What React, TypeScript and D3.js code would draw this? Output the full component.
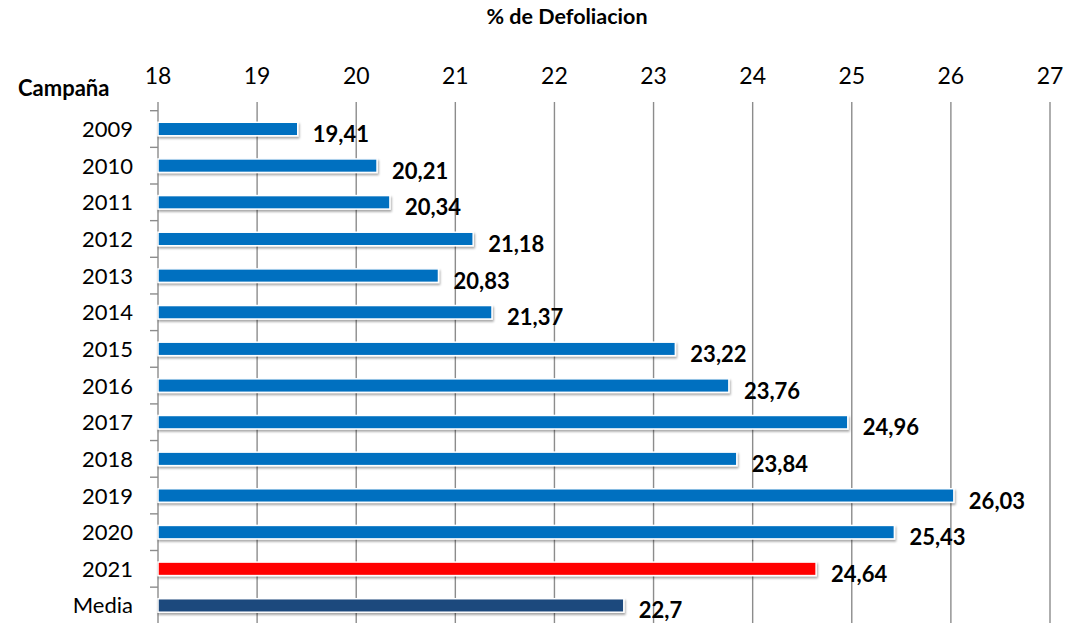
import React from "react";
import * as d3 from "d3";

const categories = ["2009","2010","2011","2012","2013","2014","2015","2016","2017","2018","2019","2020","2021","Media"];
const values = [19.41,20.21,20.34,21.18,20.83,21.37,23.22,23.76,24.96,23.84,26.03,25.43,24.64,22.7];
const labels = ["19,41","20,21","20,34","21,18","20,83","21,37","23,22","23,76","24,96","23,84","26,03","25,43","24,64","22,7"];
const xTicks = [18,19,20,21,22,23,24,25,26,27];
const barColors = ["#0070C0","#0070C0","#0070C0","#0070C0","#0070C0","#0070C0","#0070C0","#0070C0","#0070C0","#0070C0","#0070C0","#0070C0","#FF0000","#1F497D"];

const W = 1066, H = 623;
const FONT = "Lato, 'Open Sans', sans-serif";

export default function App() {
  const x = d3.scaleLinear().domain([18, 27]).range([158, 1050]);
  const y = d3.scaleBand().domain(categories).range([110.7, 623.8]).paddingInner(0).paddingOuter(0);
  const bh = 13.5;
  return (
    <svg width={W} height={H} style={{ position: "absolute", left: 0, top: 0, background: "#fff" }}>
      <defs>
        <filter id="sh" x="-5%" y="-50%" width="110%" height="200%">
          <feDropShadow dx="1" dy="2" stdDeviation="1.3" floodColor="#000" floodOpacity="0.35" />
        </filter>
      </defs>
      <text x={567} y={24} textAnchor="middle" fontFamily={FONT} fontWeight="bold" fontSize={21.5} fill="#000">% de Defoliacion</text>
      <text x={18} y={96} fontFamily={FONT} fontWeight="bold" fontSize={22} fill="#000">Campaña</text>
      {xTicks.map(t => (
        <g key={t}>
          <line x1={x(t)} x2={x(t)} y1={102} y2={H} stroke="#8c8c8c" strokeWidth={1.4} />
          <text x={x(t)} y={84} textAnchor="middle" fontFamily={FONT} fontSize={23} fill="#000">{t}</text>
        </g>
      ))}
      {categories.map((c) => (
        <line key={"t" + c} x1={150} x2={158} y1={y(c)!} y2={y(c)!} stroke="#8c8c8c" strokeWidth={1.4} />
      ))}
      <line x1={150} x2={158} y1={623.8} y2={623.8} stroke="#8c8c8c" strokeWidth={1.4} />
      {categories.map((c, i) => {
        const cy = y(c)! + y.bandwidth() / 2;
        return (
          <g key={c}>
            <text x={133} y={cy + 8} textAnchor="end" fontFamily={FONT} fontSize={22} fill="#000">{c}</text>
            <rect x={x(18)} y={cy - bh / 2} width={x(values[i]) - x(18)} height={bh} fill={barColors[i]} stroke="#fff" strokeWidth={1.5} filter="url(#sh)" />
            <text x={x(values[i]) + 15} y={cy + 13} fontFamily={FONT} fontWeight="bold" fontSize={22} fill="#000">{labels[i]}</text>
          </g>
        );
      })}
    </svg>
  );
}
